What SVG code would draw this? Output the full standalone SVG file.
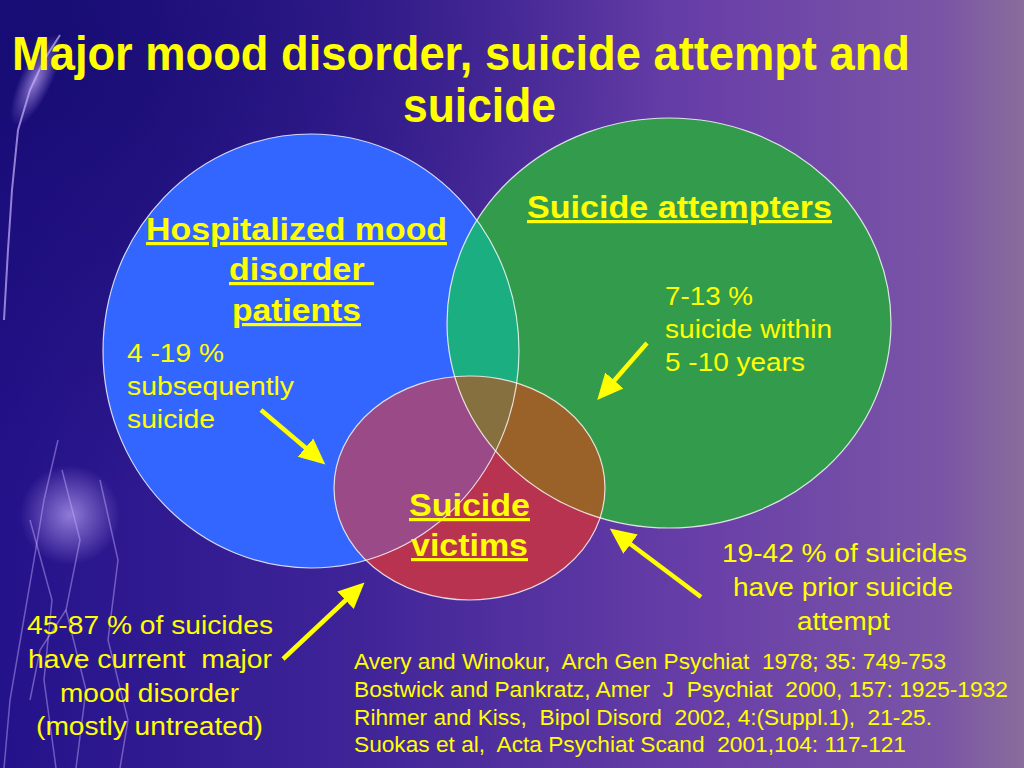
<svg xmlns="http://www.w3.org/2000/svg" width="1024" height="768" viewBox="0 0 1024 768">
<defs>
<linearGradient id="bg" x1="0" y1="0" x2="1" y2="0">
<stop offset="0" stop-color="#24128a"/>
<stop offset="0.35" stop-color="#3f2498"/>
<stop offset="0.7" stop-color="#6a40a8"/>
<stop offset="0.92" stop-color="#7a55a6"/>
<stop offset="1" stop-color="#8a6c9c"/>
</linearGradient>
<radialGradient id="dark" cx="0.05" cy="0.05" r="0.6">
<stop offset="0" stop-color="#10086a" stop-opacity="0.7"/>
<stop offset="1" stop-color="#10086a" stop-opacity="0"/>
</radialGradient>
<radialGradient id="glow" cx="0.5" cy="0.5" r="0.5">
<stop offset="0" stop-color="#c8b0ff" stop-opacity="0.65"/>
<stop offset="1" stop-color="#c8b0ff" stop-opacity="0"/>
</radialGradient>
<clipPath id="cBlue"><ellipse cx="311" cy="351" rx="208" ry="217"/></clipPath>
<clipPath id="cGreen"><ellipse cx="669" cy="323" rx="222" ry="205"/></clipPath>
<marker id="ah" markerUnits="userSpaceOnUse" markerWidth="28" markerHeight="26" refX="2" refY="13" orient="auto">
<polygon points="0,1 26,13 0,25" fill="#ffff00"/>
</marker>
<style>
.t{font-family:"Liberation Sans",Arial,sans-serif;fill:#ffff00}
.b{font-weight:bold}
.lbl{font-size:25px}
.ref{font-size:22px}
.hd{font-size:32px;font-weight:bold;text-decoration:underline}
.ol{fill:none;stroke:#ffffff;stroke-opacity:0.8;stroke-width:1.2}
.ar{stroke:#ffff00;stroke-width:4.5;fill:none;marker-end:url(#ah)}
</style>
</defs>
<rect width="1024" height="768" fill="url(#bg)"/>
<rect width="1024" height="768" fill="url(#dark)"/>
<g id="lightning" fill="none" stroke="#c8b0ff" stroke-opacity="0.45" stroke-width="1.5">
<path d="M60,35 L44,60 L30,90 L18,130 L12,190 L8,250 L4,320" stroke-opacity="0.7" stroke-width="2"/>
<path d="M58,440 L44,500 L34,560 L22,630 L10,700 L4,768"/>
<path d="M62,470 L80,540 L66,610 L86,690 L76,768"/>
<path d="M30,520 L52,600 L44,680 L56,768"/>
<path d="M100,480 L118,560 L108,640 L128,720 L120,768"/>
<path d="M66,610 L40,650 L30,700"/>
</g>
<ellipse cx="70" cy="515" rx="50" ry="50" fill="url(#glow)"/>
<ellipse cx="36" cy="80" rx="16" ry="50" fill="url(#glow)" transform="rotate(25 36 80)"/>

<g id="node-hospitalized">
<ellipse cx="311" cy="351" rx="208" ry="217" fill="#3366ff"/>
</g>
<g id="node-attempters">
<ellipse cx="669" cy="323" rx="222" ry="205" fill="#339c4c"/>
</g>
<g id="node-victims">
<ellipse cx="469.5" cy="488" rx="135.5" ry="112" fill="#b7334f"/>
</g>
<g id="overlaps">
<ellipse cx="669" cy="323" rx="222" ry="205" fill="#1bae80" clip-path="url(#cBlue)"/>
<ellipse cx="469.5" cy="488" rx="135.5" ry="112" fill="#9a4a86" clip-path="url(#cBlue)"/>
<ellipse cx="469.5" cy="488" rx="135.5" ry="112" fill="#9a6128" clip-path="url(#cGreen)"/>
<g clip-path="url(#cBlue)"><ellipse cx="469.5" cy="488" rx="135.5" ry="112" fill="#87703f" clip-path="url(#cGreen)"/></g>
</g>
<g id="outlines">
<ellipse class="ol" cx="311" cy="351" rx="208" ry="217"/>
<ellipse class="ol" cx="669" cy="323" rx="222" ry="205"/>
<ellipse class="ol" cx="469.5" cy="488" rx="135.5" ry="112"/>
</g>

<g id="title" class="t b">
<text x="12" y="70" font-size="48" textLength="898" lengthAdjust="spacingAndGlyphs">Major mood disorder, suicide attempt and</text>
<text x="403" y="122" font-size="48" textLength="153" lengthAdjust="spacingAndGlyphs">suicide</text>
</g>

<g id="label-hospitalized" class="t hd">
<text x="146" y="240" textLength="301" lengthAdjust="spacingAndGlyphs">Hospitalized mood</text>
<text x="229" y="280" textLength="145" lengthAdjust="spacingAndGlyphs" xml:space="preserve">disorder </text>
<text x="232" y="321" textLength="129" lengthAdjust="spacingAndGlyphs">patients</text>
</g>
<g id="label-attempters" class="t hd">
<text x="527" y="218" textLength="305" lengthAdjust="spacingAndGlyphs">Suicide attempters</text>
</g>
<g id="label-victims" class="t hd">
<text x="409" y="516" textLength="121" lengthAdjust="spacingAndGlyphs">Suicide</text>
<text x="411" y="556" textLength="117" lengthAdjust="spacingAndGlyphs">victims</text>
</g>

<g id="note-hospitalized" class="t lbl">
<text x="127" y="362" textLength="97" lengthAdjust="spacingAndGlyphs">4 -19 %</text>
<text x="127" y="395" textLength="167" lengthAdjust="spacingAndGlyphs">subsequently</text>
<text x="127" y="428" textLength="88" lengthAdjust="spacingAndGlyphs">suicide</text>
</g>
<g id="note-attempters" class="t lbl">
<text x="665" y="305" textLength="88" lengthAdjust="spacingAndGlyphs">7-13 %</text>
<text x="665" y="338" textLength="167" lengthAdjust="spacingAndGlyphs">suicide within</text>
<text x="665" y="371" textLength="140" lengthAdjust="spacingAndGlyphs">5 -10 years</text>
</g>
<g id="note-prior" class="t lbl">
<text x="722" y="562" textLength="245" lengthAdjust="spacingAndGlyphs">19-42 % of suicides</text>
<text x="733" y="596" textLength="220" lengthAdjust="spacingAndGlyphs">have prior suicide</text>
<text x="797" y="630" textLength="93" lengthAdjust="spacingAndGlyphs">attempt</text>
</g>
<g id="note-current" class="t lbl">
<text x="27" y="634" textLength="246" lengthAdjust="spacingAndGlyphs">45-87 % of suicides</text>
<text x="28" y="668" textLength="244" lengthAdjust="spacingAndGlyphs" xml:space="preserve">have current  major</text>
<text x="60" y="702" textLength="179" lengthAdjust="spacingAndGlyphs">mood disorder</text>
<text x="36" y="735" textLength="227" lengthAdjust="spacingAndGlyphs">(mostly untreated)</text>
</g>

<g id="references" class="t ref">
<text x="354" y="669" textLength="592" lengthAdjust="spacingAndGlyphs" xml:space="preserve">Avery and Winokur,  Arch Gen Psychiat  1978; 35: 749-753</text>
<text x="354" y="697" textLength="654" lengthAdjust="spacingAndGlyphs" xml:space="preserve">Bostwick and Pankratz, Amer  J  Psychiat  2000, 157: 1925-1932</text>
<text x="354" y="725" textLength="578" lengthAdjust="spacingAndGlyphs" xml:space="preserve">Rihmer and Kiss,  Bipol Disord  2002, 4:(Suppl.1),  21-25.</text>
<text x="354" y="752" textLength="552" lengthAdjust="spacingAndGlyphs" xml:space="preserve">Suokas et al,  Acta Psychiat Scand  2001,104: 117-121</text>
</g>

<g id="connectors">
<line class="ar" x1="261" y1="410" x2="307" y2="449"/>
<line class="ar" x1="647" y1="343" x2="613" y2="382"/>
<line class="ar" x1="701" y1="597" x2="629" y2="543"/>
<line class="ar" x1="283" y1="659" x2="347" y2="599"/>
</g>
</svg>
